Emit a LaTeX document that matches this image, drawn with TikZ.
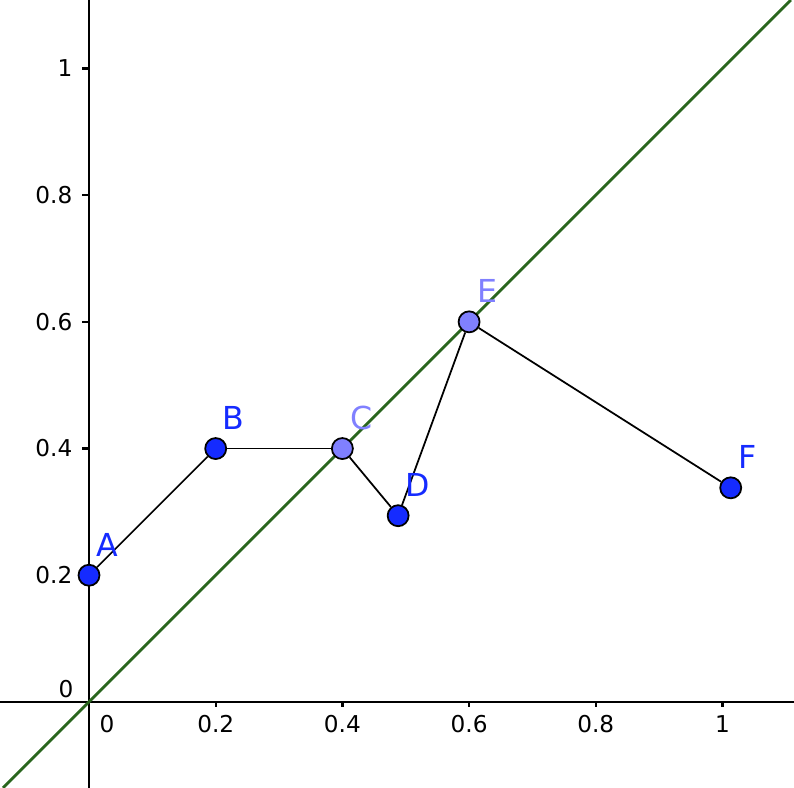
\documentclass[tikz,border=0pt]{standalone}
\usepackage{fontspec}
\setmainfont{DejaVu Sans}
\usetikzlibrary{calc}
\definecolor{ptblue}{RGB}{21,43,255}
\definecolor{ptlight}{RGB}{128,128,255}
\definecolor{diaggreen}{RGB}{42,102,30}

\begin{document}
\begin{tikzpicture}[
                x=6.335cm, y=6.335cm,
                axis/.style={line width=0.65pt},
                seg/.style={line width=0.5pt},
                diag/.style={diaggreen, line width=0.8pt},
                pt/.style={circle, draw=black, line width=0.5pt, fill=ptblue, minimum size=0.21cm, inner sep=0pt},
                ptl/.style={pt, fill=ptlight},
                lbl/.style={text=ptblue, font=\fontsize{9}{10}\selectfont, inner sep=0pt},
                lbll/.style={lbl, text=ptlight},
                ticklbl/.style={font=\fontsize{6.6}{8}\selectfont, inner sep=0pt},
            ]
            \useasboundingbox (-0.1405,-0.1358) rectangle (1.1129,1.1081);

            % axes
            \coordinate (xl) at (-0.1405,0);
            \coordinate (xr) at (1.1129,0);
            \coordinate (yb) at (0,-0.1358);
            \coordinate (yt) at (0,1.1081);
            \draw[axis] (xl) -- (xr);
            \draw[axis] (yb) -- (yt);
            \foreach \x in {0.2,0.4,0.6,0.8,1} {
                \draw[axis] (\x,0) -- ++(0,-0.05cm);
                \node[ticklbl] (xt\x) at ($(\x,0)+(0,-0.22cm)$) {\x};
            }
            \foreach \y in {0.2,0.4,0.6,0.8,1} {
                \draw[axis] (0,\y) -- ++(-0.07cm,0);
                \node[ticklbl, anchor=east] (yt\y) at ($(0,\y)+(-0.16cm,0)$) {\y};
            }
            \node[ticklbl] (x0) at ($(0,0)+(0.18cm,-0.22cm)$) {0};
            \node[ticklbl] (y0) at ($(0,0)+(-0.23cm,0.13cm)$) {0};

            % y = x
            \coordinate (g0) at (-0.1358,-0.1358);
            \coordinate (g1) at (1.1081,1.1081);
            \draw[diag] (g0) -- (g1);

            % points
            \node[pt] (A) at (0,0.2) {};
            \node[pt] (B) at (0.2,0.4) {};
            \node[ptl] (C) at (0.4,0.4) {};
            \node[pt] (D) at (0.488,0.294) {};
            \node[ptl] (E) at (0.6,0.6) {};
            \node[pt] (F) at (1.013,0.338) {};

            \draw[seg] (A) -- (B);
            \draw[seg] (B) -- (C);
            \draw[seg] (C) -- (D);
            \draw[seg] (D) -- (E);
            \draw[seg] (E) -- (F);

            \node[lbl] (la) at ($(A)+(0.18cm,0.30cm)$) {A};
            \node[lbl] (lb) at ($(B)+(0.18cm,0.31cm)$) {B};
            \node[lbll] (lc) at ($(C)+(0.19cm,0.31cm)$) {C};
            \node[lbl] (ld) at ($(D)+(0.20cm,0.31cm)$) {D};
            \node[lbll] (le) at ($(E)+(0.18cm,0.31cm)$) {E};
            \node[lbl] (lf) at ($(F)+(0.17cm,0.31cm)$) {F};
        \end{tikzpicture}
\end{document}
